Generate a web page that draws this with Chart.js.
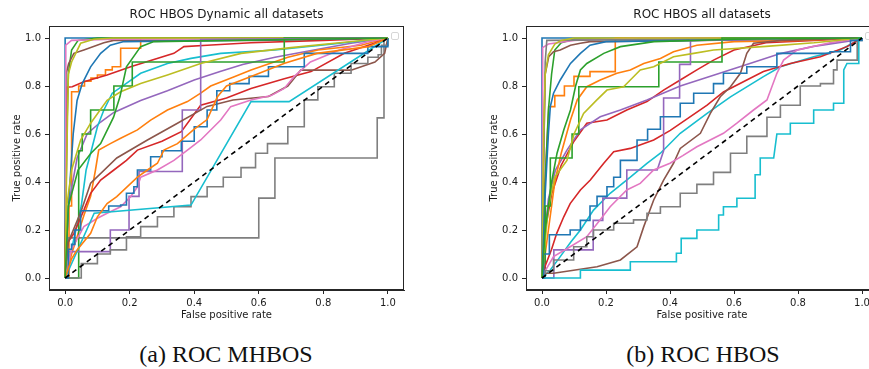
<!DOCTYPE html>
<html><head><meta charset="utf-8">
<script src="https://cdn.jsdelivr.net/npm/chart.js@4.4.0/dist/chart.umd.min.js"></script>
<style>
html,body{margin:0;padding:0;background:#fff;width:869px;height:369px;overflow:hidden;}
#wrap{position:relative;width:869px;height:369px;overflow:hidden;background:#fff;}
canvas{position:absolute;top:0;}
#c1{left:0px}
#c2{left:477px}
.cap{position:absolute;top:342px;font-family:"Liberation Serif",serif;font-size:24px;line-height:24px;color:#111;text-align:center;white-space:nowrap;width:200px}
</style></head><body>
<div id="wrap">
<canvas id="c1" width="435" height="330"></canvas>
<canvas id="c2" width="435" height="330"></canvas>
<div class="cap" style="left:126px">(a) ROC MHBOS</div>
<div class="cap" style="left:603px">(b) ROC HBOS</div>
</div>
<script>
// ---------- tick labels / texts ----------
const xTicks = [0, 0.2, 0.4, 0.6, 0.8, 1.0];
const yTicks = [0, 0.2, 0.4, 0.6, 0.8, 1.0];
const titleLeft = 'ROC HBOS Dynamic all datasets';
const titleRight = 'ROC HBOS all datasets';
const xLabel = 'False positive rate';
const yLabel = 'True positive rate';

// ---------- chance line ----------
const chanceLine = [[0,0],[1,1]];

// ---------- (a) MHBOS curves: [FPR, TPR] ----------
const mhbosBluePerfect = [[0,0],[0,1],[1,1]];
const mhbosBlueSmooth = [[0,0],[0.01,0.3],[0.025,0.6],[0.037,0.74],[0.053,0.81],[0.079,0.88],[0.11,0.936],[0.14,0.97],[0.182,0.985],[0.5,0.99],[1,1]];
const mhbosBlueStep = [[0,0],[0.01,0.12],[0.02,0.14],[0.03,0.2],[0.048,0.28],[0.135,0.28],[0.135,0.3],[0.172,0.304],[0.19,0.353],[0.213,0.38],[0.224,0.45],[0.265,0.505],[0.3,0.53],[0.36,0.57],[0.4,0.63],[0.44,0.7],[0.47,0.78],[0.51,0.81],[0.57,0.84],[0.63,0.88],[0.741,0.936],[0.897,0.936],[0.938,0.964],[1,1]];
const mhbosOrangeStair = [[0,0],[0.012,0.3],[0.02,0.776],[0.042,0.8],[0.06,0.82],[0.08,0.833],[0.1,0.846],[0.125,0.867],[0.146,0.88],[0.172,0.9],[0.172,0.957],[0.234,0.957],[0.234,1],[1,1]];
const mhbosOrangeMid = [[0,0],[0.02,0.1],[0.058,0.26],[0.079,0.34],[0.094,0.45],[0.104,0.533],[0.14,0.56],[0.172,0.582],[0.224,0.617],[0.265,0.658],[0.317,0.7],[0.379,0.735],[0.42,0.77],[0.451,0.8],[0.524,0.839],[0.576,0.867],[0.69,0.92],[0.783,0.95],[0.917,0.97],[1,1]];
const mhbosOrangeLow = [[0,0],[0.02,0.08],[0.037,0.117],[0.079,0.186],[0.1,0.255],[0.13,0.31],[0.16,0.339],[0.224,0.42],[0.255,0.45],[0.286,0.478],[0.306,0.533],[0.348,0.56],[0.4,0.62],[0.44,0.66],[0.472,0.755],[0.5,0.8],[0.576,0.84],[0.68,0.895],[0.78,0.936],[0.94,0.964],[1,1]];
const mhbosGreenSteep = [[0,0],[0.005,0.6],[0.01,0.85],[0.02,0.95],[0.04,0.99],[0.1,1],[1,1]];
const mhbosGreenStair = [[0,0],[0.042,0],[0.042,0.53],[0.053,0.53],[0.053,0.6],[0.079,0.6],[0.079,0.7],[0.151,0.7],[0.151,0.8],[0.208,0.8],[0.208,0.9],[0.679,0.9],[0.679,1],[1,1]];
const mhbosGreenCurve = [[0,0],[0.01,0.3],[0.04,0.45],[0.08,0.52],[0.11,0.56],[0.15,0.67],[0.17,0.756],[0.19,0.88],[0.234,0.964],[0.275,0.985],[1,1]];
const mhbosRedHigh = [[0,0],[0.004,0.5],[0.006,0.795],[0.022,0.797],[0.058,0.818],[0.13,0.846],[0.203,0.88],[0.337,0.936],[0.368,0.964],[0.44,0.97],[0.576,0.98],[0.8,0.99],[1,1]];
const mhbosRedMid = [[0,0],[0.006,0.144],[0.027,0.186],[0.058,0.283],[0.079,0.353],[0.11,0.408],[0.151,0.45],[0.19,0.49],[0.224,0.533],[0.3,0.57],[0.36,0.61],[0.42,0.72],[0.5,0.75],[0.576,0.79],[0.679,0.83],[0.762,0.86],[0.865,0.936],[0.958,0.978],[1,1]];
const mhbosPurpleSmooth = [[0,0],[0.01,0.3],[0.037,0.5],[0.068,0.6],[0.11,0.65],[0.151,0.69],[0.234,0.74],[0.317,0.78],[0.4,0.825],[0.48,0.86],[0.55,0.89],[0.65,0.92],[0.75,0.945],[0.886,0.978],[1,1]];
const mhbosPurpleStep = [[0,0],[0.006,0.11],[0.14,0.11],[0.14,0.2],[0.198,0.2],[0.198,0.34],[0.229,0.34],[0.229,0.444],[0.363,0.444],[0.363,0.7],[0.42,0.7],[0.42,0.994],[1,1]];
const mhbosBrownSteep = [[0,0],[0.003,0.85],[0.011,0.894],[0.027,0.936],[0.058,0.95],[0.12,0.98],[0.15,0.99],[0.6,0.99],[1,1]];
const mhbosBrownMid = [[0,0],[0.01,0.15],[0.05,0.28],[0.079,0.395],[0.16,0.5],[0.255,0.575],[0.348,0.645],[0.44,0.715],[0.52,0.742],[0.63,0.756],[0.69,0.8],[0.73,0.866],[0.886,0.866],[0.96,0.9],[0.99,0.936],[1,1]];
const mhbosPinkPerfect = [[0,0],[0.002,0.97],[0.02,0.99],[0.15,0.995],[1,1]];
const mhbosPinkMid = [[0,0],[0.02,0.12],[0.058,0.214],[0.1,0.249],[0.13,0.27],[0.172,0.297],[0.203,0.339],[0.224,0.38],[0.234,0.42],[0.286,0.45],[0.337,0.49],[0.379,0.533],[0.42,0.575],[0.482,0.658],[0.513,0.714],[0.576,0.742],[0.638,0.76],[0.679,0.79],[0.71,0.84],[0.76,0.9],[0.85,0.95],[0.94,0.985],[1,1]];
const mhbosGrayBig = [[0,0],[0.01,0.167],[0.6,0.167],[0.6,0.333],[0.65,0.333],[0.65,0.5],[0.967,0.5],[0.967,0.667],[0.988,0.667],[0.988,1],[1,1]];
const mhbosGrayStair = [[0,0],[0.05,0.06],[0.1,0.1],[0.14,0.117],[0.19,0.172],[0.234,0.214],[0.286,0.255],[0.337,0.297],[0.39,0.339],[0.44,0.38],[0.49,0.42],[0.545,0.46],[0.59,0.52],[0.627,0.56],[0.69,0.63],[0.741,0.742],[0.783,0.797],[0.834,0.853],[0.886,0.894],[0.938,0.92],[0.97,0.93],[0.98,0.97],[1,1]];
const mhbosOliveSteep = [[0,0],[0.005,0.5],[0.01,0.85],[0.02,0.9],[0.048,0.978],[0.089,0.995],[0.15,1],[1,1]];
const mhbosOliveMid = [[0,0],[0.005,0.3],[0.02,0.45],[0.048,0.575],[0.079,0.645],[0.13,0.74],[0.172,0.776],[0.234,0.81],[0.317,0.846],[0.42,0.894],[0.545,0.936],[0.7,0.96],[0.85,0.98],[1,1]];
const mhbosCyanHigh = [[0,0],[0.05,0.3],[0.065,0.45],[0.079,0.52],[0.1,0.63],[0.12,0.7],[0.146,0.77],[0.182,0.804],[0.234,0.853],[0.317,0.894],[0.39,0.915],[0.482,0.936],[0.65,0.95],[0.83,0.975],[1,1]];
const mhbosCyanLow = [[0,0],[0.09,0.27],[0.39,0.304],[0.576,0.735],[0.694,0.735],[1,1]];

// ---------- (b) HBOS curves: [FPR, TPR] ----------
const hbosBluePerfect = [[0,0],[0,1],[1,1]];
const hbosPinkPerfect = [[0,0],[0.002,0.96],[0.02,0.975],[0.1,0.99],[0.3,1],[1,1]];
const hbosOliveSteep = [[0,0],[0.005,0.6],[0.01,0.85],[0.02,0.93],[0.04,0.975],[0.06,0.99],[0.1,1],[1,1]];
const hbosGreenSteep = [[0,0],[0.01,0.4],[0.02,0.7],[0.03,0.85],[0.04,0.95],[0.06,0.98],[0.1,0.995],[1,1]];
const hbosGrayEdge = [[0,0],[0.01,0.9],[0.015,0.99],[1,1]];
const hbosBrownSteep = [[0,0],[0.005,0.5],[0.01,0.85],[0.021,0.922],[0.036,0.943],[0.057,0.95],[0.089,0.97],[0.12,0.978],[0.15,0.985],[0.5,0.99],[1,1]];
const hbosBlueSmooth = [[0,0],[0.01,0.35],[0.02,0.6],[0.026,0.714],[0.036,0.77],[0.057,0.825],[0.089,0.894],[0.12,0.936],[0.15,0.97],[0.2,0.985],[1,1]];
const hbosGreenCurve = [[0,0],[0.01,0.2],[0.03,0.4],[0.047,0.52],[0.068,0.617],[0.089,0.7],[0.105,0.8],[0.12,0.867],[0.14,0.894],[0.193,0.936],[0.245,0.964],[0.35,0.985],[0.6,0.995],[1,1]];
const hbosOrangeStair = [[0,0],[0.005,0.3],[0.021,0.7],[0.021,0.714],[0.04,0.714],[0.04,0.76],[0.07,0.76],[0.07,0.8],[0.1,0.8],[0.1,0.84],[0.15,0.84],[0.15,0.86],[0.229,0.86],[0.229,1],[1,1]];
const hbosOrangeCurve = [[0,0],[0.02,0.2],[0.04,0.4],[0.06,0.52],[0.089,0.658],[0.11,0.742],[0.14,0.797],[0.182,0.825],[0.234,0.853],[0.276,0.867],[0.318,0.894],[0.37,0.915],[0.411,0.943],[0.484,0.97],[0.6,0.985],[0.8,0.99],[1,1]];
const hbosOliveMid = [[0,0],[0.02,0.3],[0.04,0.42],[0.078,0.49],[0.1,0.6],[0.13,0.686],[0.17,0.74],[0.203,0.783],[0.255,0.797],[0.276,0.825],[0.307,0.867],[0.349,0.88],[0.411,0.922],[0.474,0.936],[0.536,0.95],[0.7,0.965],[0.85,0.98],[1,1]];
const hbosGreenStair = [[0,0],[0.01,0],[0.01,0.3],[0.026,0.3],[0.026,0.5],[0.094,0.5],[0.094,0.6],[0.115,0.6],[0.115,0.797],[0.365,0.797],[0.365,0.9],[0.5625,0.9],[0.5625,1],[1,1]];
const hbosPurpleSmooth = [[0,0],[0.01,0.2],[0.02,0.33],[0.042,0.45],[0.078,0.533],[0.12,0.617],[0.182,0.672],[0.245,0.7],[0.328,0.742],[0.432,0.8],[0.536,0.845],[0.64,0.89],[0.745,0.935],[0.849,0.965],[0.974,0.99],[1,1]];
const hbosRedHigh = [[0,0],[0.01,0.2],[0.03,0.35],[0.06,0.47],[0.1,0.57],[0.14,0.645],[0.203,0.658],[0.265,0.7],[0.328,0.735],[0.38,0.783],[0.432,0.825],[0.484,0.867],[0.536,0.908],[0.6,0.95],[0.7,0.98],[0.85,0.99],[1,1]];
const hbosPurpleStep = [[0,0],[0.037,0],[0.037,0.117],[0.16,0.117],[0.16,0.24],[0.19,0.24],[0.19,0.333],[0.265,0.333],[0.265,0.45],[0.36,0.45],[0.38,0.53],[0.38,0.75],[0.43,0.75],[0.43,0.89],[0.464,0.89],[0.464,0.99],[1,1]];
const hbosRedMid = [[0,0],[0.01,0.05],[0.03,0.12],[0.046,0.186],[0.068,0.255],[0.088,0.31],[0.12,0.367],[0.151,0.408],[0.193,0.478],[0.224,0.526],[0.276,0.54],[0.349,0.575],[0.401,0.615],[0.45,0.66],[0.516,0.72],[0.567,0.775],[0.64,0.825],[0.692,0.86],[0.776,0.894],[0.87,0.922],[0.953,0.964],[1,1]];
const hbosBlueStep = [[0,0],[0.005,0.1],[0.023,0.18],[0.075,0.18],[0.088,0.2],[0.12,0.24],[0.15,0.3],[0.172,0.34],[0.203,0.38],[0.224,0.42],[0.245,0.49],[0.297,0.575],[0.33,0.62],[0.37,0.672],[0.432,0.728],[0.474,0.77],[0.536,0.81],[0.567,0.853],[0.64,0.88],[0.734,0.936],[0.9,0.943],[0.964,0.99],[1,1]];
const hbosCyanSmooth = [[0,0],[0.026,0.033],[0.057,0.089],[0.09,0.15],[0.12,0.2],[0.161,0.283],[0.213,0.353],[0.276,0.42],[0.328,0.478],[0.37,0.52],[0.432,0.603],[0.516,0.686],[0.589,0.755],[0.692,0.839],[0.745,0.88],[0.849,0.922],[0.932,0.95],[1,1]];
const hbosPinkMid = [[0,0],[0.01,0.03],[0.036,0.089],[0.088,0.13],[0.14,0.172],[0.18,0.24],[0.213,0.297],[0.265,0.367],[0.307,0.394],[0.349,0.45],[0.4,0.478],[0.44,0.51],[0.484,0.547],[0.567,0.603],[0.609,0.645],[0.661,0.7],[0.703,0.742],[0.734,0.853],[0.755,0.908],[0.797,0.95],[0.9,0.98],[1,1]];
const hbosBrownLow = [[0,0],[0.01,0.02],[0.036,0.02],[0.172,0.047],[0.245,0.075],[0.297,0.13],[0.318,0.214],[0.349,0.325],[0.38,0.408],[0.411,0.478],[0.432,0.54],[0.495,0.603],[0.526,0.686],[0.557,0.755],[0.589,0.797],[0.62,0.853],[0.64,0.936],[0.661,0.978],[0.75,0.99],[1,1]];
const hbosGrayStair = [[0,0],[0.01,0.03],[0.036,0.075],[0.099,0.13],[0.14,0.172],[0.161,0.2],[0.224,0.228],[0.286,0.242],[0.328,0.27],[0.37,0.297],[0.432,0.353],[0.484,0.39],[0.536,0.44],[0.589,0.52],[0.64,0.59],[0.703,0.67],[0.745,0.72],[0.807,0.8],[0.87,0.81],[0.911,0.867],[0.922,0.908],[0.974,0.908],[0.985,0.99],[1,1]];
const hbosCyanLow = [[0,0],[0.12,0],[0.12,0.033],[0.276,0.033],[0.276,0.068],[0.42,0.068],[0.42,0.103],[0.435,0.103],[0.435,0.165],[0.484,0.165],[0.484,0.2],[0.552,0.2],[0.552,0.2625],[0.567,0.2625],[0.567,0.297],[0.609,0.297],[0.609,0.332],[0.666,0.332],[0.666,0.43],[0.682,0.43],[0.682,0.5],[0.724,0.5],[0.734,0.6],[0.776,0.6],[0.776,0.645],[0.849,0.645],[0.849,0.7],[0.911,0.7],[0.911,0.728],[0.943,0.728],[0.943,0.867],[0.953,0.894],[0.99,0.894],[0.99,1],[1,1]];

// ---------- styling (tab10 colours) ----------
const C = {blue:'#1f77b4', orange:'#ff7f0e', green:'#2ca02c', red:'#d62728', purple:'#9467bd',
           brown:'#8c564b', pink:'#e377c2', gray:'#7f7f7f', olive:'#bcbd22', cyan:'#17becf'};

const leftSeries = [
  [mhbosBluePerfect,'blue',false],[mhbosOrangeStair,'orange','before'],[mhbosGreenSteep,'green',false],
  [mhbosRedHigh,'red',false],[mhbosPurpleSmooth,'purple',false],[mhbosBrownSteep,'brown',false],
  [mhbosPinkPerfect,'pink',false],[mhbosGrayBig,'gray',false],[mhbosOliveSteep,'olive',false],
  [mhbosCyanHigh,'cyan',false],[mhbosBlueSmooth,'blue',false],[mhbosOrangeMid,'orange',false],
  [mhbosGreenStair,'green',false],[mhbosRedMid,'red',false],[mhbosPurpleStep,'purple',false],
  [mhbosBrownMid,'brown',false],[mhbosPinkMid,'pink',false],[mhbosGrayStair,'gray','before'],
  [mhbosOliveMid,'olive',false],[mhbosCyanLow,'cyan',false],[mhbosBlueStep,'blue','before'],
  [mhbosOrangeLow,'orange',false],[mhbosGreenCurve,'green',false]
];
const rightSeries = [
  [hbosBluePerfect,'blue',false],[hbosOrangeStair,'orange',false],[hbosGreenSteep,'green',false],
  [hbosRedHigh,'red',false],[hbosPurpleSmooth,'purple',false],[hbosBrownSteep,'brown',false],
  [hbosPinkPerfect,'pink',false],[hbosGrayEdge,'gray',false],[hbosOliveSteep,'olive',false],
  [hbosCyanSmooth,'cyan',false],[hbosBlueSmooth,'blue',false],[hbosOrangeCurve,'orange',false],
  [hbosGreenStair,'green',false],[hbosRedMid,'red',false],[hbosPurpleStep,'purple',false],
  [hbosBrownLow,'brown',false],[hbosPinkMid,'pink',false],[hbosGrayStair,'gray','before'],
  [hbosOliveMid,'olive',false],[hbosCyanLow,'cyan',false],[hbosBlueStep,'blue','before'],
  [hbosGreenCurve,'green',false]
];

const toXY = arr => arr.map(p => ({x: p[0], y: p[1]}));

function buildDatasets(series) {
  const ds = [{
    data: toXY(chanceLine), borderColor: '#000', borderWidth: 1.6, borderDash: [5, 4],
    showLine: true, pointRadius: 0, fill: false
  }];
  // later series drawn on top like matplotlib: reverse order for Chart.js
  series.slice().reverse().forEach(s => {
    ds.push({data: toXY(s[0]), borderColor: C[s[1]], borderWidth: 1.6, stepped: s[2],
             showLine: true, pointRadius: 0, fill: false, tension: 0});
  });
  return ds;
}

const framePlugin = {
  id: 'frame',
  afterDraw(chart) {
    const {ctx, chartArea: a} = chart;
    ctx.save();
    ctx.strokeStyle = '#262626';
    ctx.lineWidth = 1;
    ctx.strokeRect(Math.round(a.left) + 0.5, Math.round(a.top) + 0.5,
                   Math.round(a.right - a.left) - 1, Math.round(a.bottom - a.top) - 1);
    // empty legend frame (matplotlib legend with no entries)
    const bx = a.right - 13, by = a.top + 6;
    ctx.strokeStyle = '#d6d6d6';
    ctx.fillStyle = '#fff';
    ctx.beginPath();
    ctx.roundRect(bx + 0.5, by + 0.5, 7, 7, 1.5);
    ctx.fill(); ctx.stroke();
    ctx.restore();
  }
};

function makeChart(id, title, series, padRight) {
  const tickFont = {family: 'DejaVu Sans', size: 10};
  new Chart(document.getElementById(id), {
    type: 'scatter',
    data: {datasets: buildDatasets(series)},
    options: {
      responsive: false, animation: false, devicePixelRatio: 1,
      layout: {padding: {left: 0, right: padRight, top: 0, bottom: 0}},
      plugins: {
        legend: {display: false}, tooltip: {enabled: false},
        title: {display: true, text: title, fullSize: false, color: '#1a1a1a',
                font: {family: 'DejaVu Sans', size: 12, weight: 'normal'},
                padding: {top: 8, bottom: 3.6}}
      },
      scales: {
        x: {
          type: 'linear', min: -0.05, max: 1.05,
          afterBuildTicks: s => { s.ticks = xTicks.map(v => ({value: v})); },
          afterFit: s => { s.height = 40; },
          ticks: {callback: v => Number(v).toFixed(1), color: '#1a1a1a', font: tickFont, padding: 3, maxRotation: 0},
          grid: {display: true, drawOnChartArea: false, drawTicks: true, tickLength: 4, color: '#262626'},
          border: {display: true, color: '#262626'},
          title: {display: true, text: xLabel, color: '#1a1a1a', font: tickFont, padding: {top: 0, bottom: 9}}
        },
        y: {
          type: 'linear', min: -0.05, max: 1.05,
          afterBuildTicks: s => { s.ticks = yTicks.map(v => ({value: v})); },
          afterFit: s => { s.width = 49; },
          ticks: {callback: v => Number(v).toFixed(1), color: '#1a1a1a', font: tickFont, padding: 4},
          grid: {display: true, drawOnChartArea: false, drawTicks: true, tickLength: 4, color: '#262626'},
          border: {display: true, color: '#262626'},
          title: {display: true, text: yLabel, color: '#1a1a1a', font: tickFont, padding: {top: 11, bottom: 0}}
        }
      }
    },
    plugins: [framePlugin]
  });
}

makeChart('c1', titleLeft, leftSeries, 31);
makeChart('c2', titleRight, rightSeries, 34);
</script>
</body></html>
